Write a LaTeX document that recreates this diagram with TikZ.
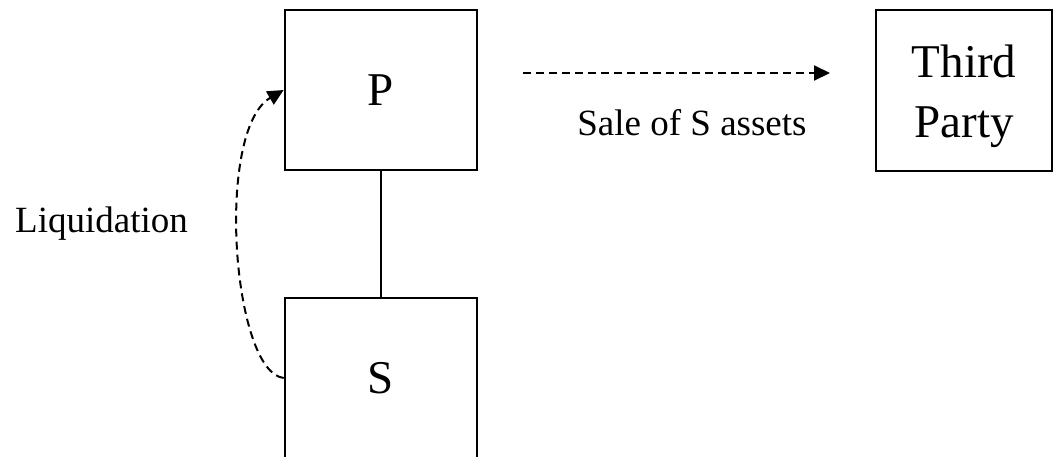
\documentclass[tikz,border=0pt]{standalone}
\usepackage{fontspec}
\setmainfont{Liberation Serif}
\usetikzlibrary{arrows.meta}
\begin{document}
\begin{tikzpicture}[x=1pt,y=-1pt,
  box/.style={draw, line width=2.6pt, minimum width=192pt, minimum height=160pt, inner sep=0pt},
  big/.style={font=\fontsize{47}{60}\selectfont},
  mid/.style={font=\fontsize{37}{42}\selectfont, inner sep=0pt},
  dasharrow/.style={line width=2pt, dash pattern=on 8pt off 5pt, -{Triangle[length=16pt,width=15pt]}}]
\useasboundingbox (0,0) rectangle (1053,456);
\node[box, big] (p) at (381,90) {P};
\node[box, big] (s) at (381,378) {S};
\node[box, minimum width=176pt, minimum height=161pt] (tp) at (964,90.5) {};
\node[big, align=center, inner sep=0pt] (tpt) at (964,96.5) {Third\\Party};
\draw[line width=2.4pt] (p.south) -- (s.north);
\coordinate (a1) at (523,73);
\coordinate (a2) at (830,73);
\draw[dasharrow] (a1) -- (a2);
\node[mid, anchor=base] (sale) at (692,135) {Sale of S assets};
\node[mid, anchor=base west] (liq) at (15,232) {Liquidation};
\draw[dasharrow] (s.west) .. controls (232,372) and (215,130) .. (p.west);
\end{tikzpicture}
\end{document}
